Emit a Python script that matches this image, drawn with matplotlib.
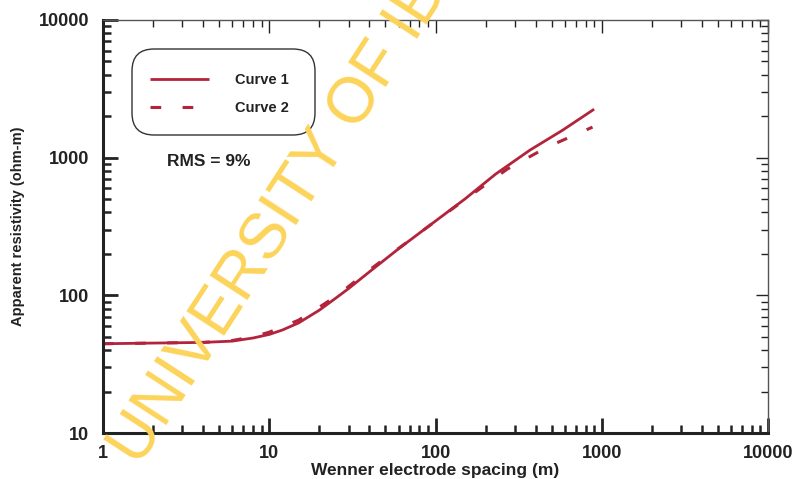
import matplotlib
matplotlib.use("Agg")
import matplotlib.pyplot as plt
from matplotlib.patches import FancyBboxPatch
from matplotlib.transforms import IdentityTransform

plt.rcParams['font.family'] = ['Liberation Sans', 'DejaVu Sans']

# Data
spacing1 = [1, 2, 4, 6, 8, 10, 12, 15, 20, 25, 30, 40, 60, 90, 150, 230, 370, 580, 900]
rho1 = [44.5, 45, 45.5, 46.5, 49, 52, 56, 63, 78, 95, 112, 148, 218, 315, 500, 760, 1135, 1580, 2250]
spacing2 = [1, 2, 4, 6, 8, 10, 12, 15, 20, 26, 30, 43, 72, 95, 150, 270, 470, 880]
rho2 = [44.5, 45, 45.5, 47, 50, 54, 59, 66, 82, 101, 116, 163, 258, 330, 495, 826, 1194, 1667]
labels = ["Curve 1", "Curve 2"]
x_ticks = [1, 10, 100, 1000, 10000]
y_ticks = [10, 100, 1000, 10000]

red = '#b3243c'
dark = '#222222'
W, H = 798, 479
fig = plt.figure(figsize=(W / 100, H / 100), dpi=100)
fig.patch.set_facecolor('white')
ax = fig.add_axes([103 / W, 1 - 433 / H, (768 - 103) / W, (433 - 20) / H])
ax.set_xscale('log')
ax.set_yscale('log')
ax.set_xlim(1, 10000)
ax.set_ylim(10, 10000)

l1, = ax.plot(spacing1, rho1, color=red, lw=2.0, solid_capstyle='butt')
l2, = ax.plot(spacing2, rho2, color=red, lw=2.2, dashes=(3.5, 7))

ax.set_xticks(x_ticks)
ax.set_xticklabels([str(v) for v in x_ticks])
ax.set_yticks(y_ticks)
ax.set_yticklabels([str(v) for v in y_ticks])

for s in ['left', 'bottom']:
    ax.spines[s].set_linewidth(2.2)
    ax.spines[s].set_color(dark)
for s in ['top', 'right']:
    ax.spines[s].set_linewidth(1.0)
    ax.spines[s].set_color('#555555')

ax.tick_params(which='both', direction='in', top=True, right=True, colors=dark)
ax.tick_params(which='major', length=11, width=2.0, labelsize=13)
ax.tick_params(which='minor', length=6, width=1.8)
ax.tick_params(axis='y', which='major', pad=10)
ax.tick_params(axis='x', which='major', pad=9)

# thinner ticks on the top and right sides
for axis in (ax.xaxis, ax.yaxis):
    for tick in axis.get_major_ticks():
        tick.tick2line.set_markeredgewidth(1.0)
        tick.tick2line.set_markersize(9)
        tick.tick2line.set_color('#555555')
    for tick in axis.get_minor_ticks():
        tick.tick2line.set_markeredgewidth(1.0)
        tick.tick2line.set_markersize(5)
        tick.tick2line.set_color('#555555')

for lab in ax.get_xticklabels() + ax.get_yticklabels():
    lab.set_fontweight('bold')
    lab.set_color(dark)

ax.set_xlabel("Wenner electrode spacing (m)", fontsize=12.5, fontweight='bold', color=dark, labelpad=0)
ax.set_ylabel("Apparent resistivity (ohm-m)", fontsize=10.5, fontweight='bold', color=dark, labelpad=10)

# Legend box (rounded)
box = FancyBboxPatch((132 + 22, H - 135 + 22), (315 - 132) - 44, (135 - 49) - 44,
                     boxstyle="round,pad=22", transform=IdentityTransform(),
                     facecolor='none', edgecolor='#333333', lw=1.0)
fig.patches.append(box)

leg = ax.legend([l1, l2], labels, loc='upper left', bbox_to_anchor=(143 / W, 1 - 66 / H),
                bbox_transform=fig.transFigure, frameon=False, handlelength=4.0,
                handletextpad=1.8, labelspacing=0.95, borderpad=0,
                prop={'size': 10.5, 'weight': 'bold'})
for t in leg.get_texts():
    t.set_color(dark)

ax.text(167 / W, 1 - 162 / H, "RMS = 9%", transform=fig.transFigure, fontsize=12.5,
        fontweight='bold', color=dark, va='center', ha='left')

# Watermark
fig.text(140 / W, 1 - 468 / H, "UNIVERSITY OF IBADAN", rotation=57, rotation_mode='anchor',
         ha='left', va='baseline', fontsize=46, color='#fcd45a', zorder=10)

fig.savefig("out.png", dpi=100)
